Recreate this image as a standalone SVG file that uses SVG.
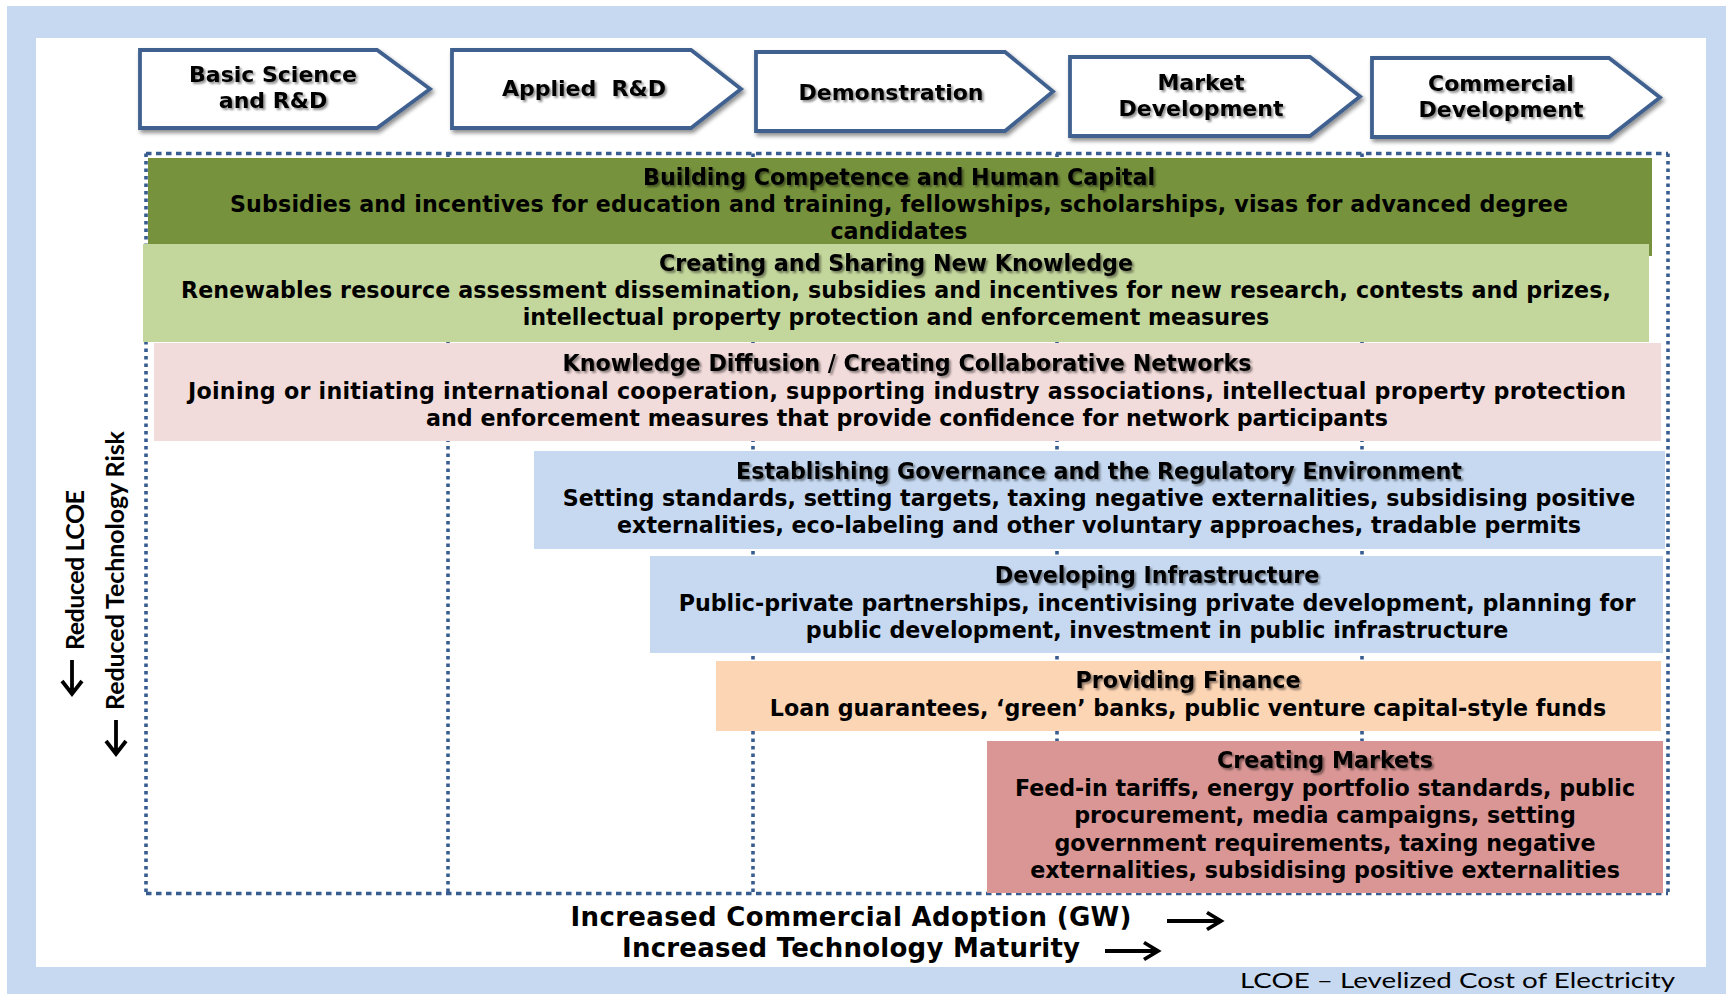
<svg xmlns="http://www.w3.org/2000/svg" width="1726" height="994" viewBox="0 0 1726 994">
  <defs>
    <style>
      .chev { fill: #ffffff; stroke: #3f6190; stroke-width: 3.8; stroke-linejoin: miter; filter: url(#boxShadow); }
      .ct { font-family: "DejaVu Sans", "Open Sans", sans-serif; font-weight: bold; font-size: 22px; fill: #000; text-anchor: middle; filter: url(#textShadow); }
      .t { font-family: "DejaVu Sans", "Open Sans", sans-serif; font-weight: bold; font-size: 22.2px; fill: #000; text-anchor: middle; }
      .ttl { filter: url(#textShadow); }
      .axis { font-family: "DejaVu Sans", "Open Sans", sans-serif; font-weight: bold; font-size: 26px; fill: #000; text-anchor: middle; }
      .vert { font-family: Lato, "Open Sans", sans-serif; font-weight: bold; font-size: 25px; fill: #000; }
      .note { font-family: Lato, "Open Sans", sans-serif; font-size: 21px; fill: #000; }
      .gh { fill: none; stroke: #375c8f; stroke-width: 3.4; stroke-dasharray: 5.5 4.5; }
      .gv { fill: none; stroke: #375c8f; stroke-width: 3.6; stroke-dasharray: 3.5 4; }
      .arr { fill: none; stroke: #000; stroke-width: 3.8; stroke-linecap: butt; stroke-linejoin: miter; }
    </style>
    <filter id="boxShadow" x="-10%" y="-20%" width="125%" height="150%">
      <feGaussianBlur in="SourceAlpha" stdDeviation="2.2"/>
      <feOffset dx="2" dy="3" result="b"/>
      <feComponentTransfer><feFuncA type="linear" slope="0.45"/></feComponentTransfer>
      <feMerge><feMergeNode/><feMergeNode in="SourceGraphic"/></feMerge>
    </filter>
    <filter id="textShadow" x="-5%" y="-40%" width="110%" height="180%">
      <feGaussianBlur in="SourceAlpha" stdDeviation="1.1"/>
      <feOffset dx="1.5" dy="1.5" result="b"/>
      <feComponentTransfer><feFuncA type="linear" slope="0.45"/></feComponentTransfer>
      <feMerge><feMergeNode/><feMergeNode in="SourceGraphic"/></feMerge>
    </filter>
  </defs>

  <!-- frame -->
  <rect x="0" y="0" width="1726" height="994" fill="#ffffff"/>
  <rect x="7" y="6" width="1719" height="988" fill="#c6d9f1"/>
  <rect x="36" y="38" width="1670" height="929" fill="#ffffff"/>

  <!-- stage chevrons -->
  <g id="stage-basic-science">
    <path class="chev" d="M140,50 H377 L430,89 L377,128 H140 Z"/>
    <text class="ct" x="273" y="82">Basic Science</text>
    <text class="ct" x="273" y="108">and R&amp;D</text>
  </g>
  <g id="stage-applied-rd">
    <path class="chev" d="M452,50 H691 L741,89 L691,128 H452 Z"/>
    <text class="ct" x="584" y="96" style="white-space:pre">Applied  R&amp;D</text>
  </g>
  <g id="stage-demonstration">
    <path class="chev" d="M756,52 H1005 L1053,91.5 L1005,131 H756 Z"/>
    <text class="ct" x="891" y="100">Demonstration</text>
  </g>
  <g id="stage-market-development">
    <path class="chev" d="M1070,57 H1310 L1360,96.5 L1310,136 H1070 Z"/>
    <text class="ct" x="1201" y="90">Market</text>
    <text class="ct" x="1201" y="116">Development</text>
  </g>
  <g id="stage-commercial-development">
    <path class="chev" d="M1372,58 H1609 L1660,97.5 L1609,137 H1372 Z"/>
    <text class="ct" x="1501" y="91">Commercial</text>
    <text class="ct" x="1501" y="117">Development</text>
  </g>

  <!-- dotted stage columns -->
  <g id="connectors">
    <line class="gh" x1="146" y1="153.5" x2="1668" y2="153.5"/>
    <line class="gh" x1="146" y1="893.5" x2="1668" y2="893.5"/>
    <line class="gv" x1="146" y1="153.5" x2="146" y2="893.5"/>
    <line class="gv" x1="1668" y1="153.5" x2="1668" y2="893.5"/>
    <line class="gv" x1="448" y1="153.5" x2="448" y2="893.5"/>
    <line class="gv" x1="753" y1="153.5" x2="753" y2="893.5"/>
    <line class="gv" x1="1057" y1="153.5" x2="1057" y2="893.5"/>
    <line class="gv" x1="1362" y1="153.5" x2="1362" y2="893.5"/>
  </g>

  <!-- policy bands -->
  <g id="band-competence">
    <rect x="148" y="158" width="1504" height="98" fill="#76923c"/>
    <text class="t ttl" x="899" y="185">Building Competence and Human Capital</text>
    <text class="t" x="899" y="212" textLength="1338">Subsidies and incentives for education and training, fellowships, scholarships, visas for advanced degree</text>
    <text class="t" x="899" y="239">candidates</text>
  </g>
  <g id="band-knowledge">
    <rect x="143" y="244" width="1506" height="98" fill="#c3d69b"/>
    <text class="t ttl" x="896" y="271">Creating and Sharing New Knowledge</text>
    <text class="t" x="896" y="298" textLength="1430">Renewables resource assessment dissemination, subsidies and incentives for new research, contests and prizes,</text>
    <text class="t" x="896" y="325">intellectual property protection and enforcement measures</text>
  </g>
  <g id="band-diffusion">
    <rect x="154" y="343" width="1507" height="98" fill="#f2dcdb"/>
    <text class="t ttl" x="907" y="371">Knowledge Diffusion / Creating Collaborative Networks</text>
    <text class="t" x="907" y="398.5" textLength="1438">Joining or initiating international cooperation, supporting industry associations, intellectual property protection</text>
    <text class="t" x="907" y="426">and enforcement measures that provide confidence for network participants</text>
  </g>
  <g id="band-governance">
    <rect x="534" y="451" width="1131" height="98" fill="#c6d9f1"/>
    <text class="t ttl" x="1099" y="479">Establishing Governance and the Regulatory Environment</text>
    <text class="t" x="1099" y="506">Setting standards, setting targets, taxing negative externalities, subsidising positive</text>
    <text class="t" x="1099" y="533">externalities, eco-labeling and other voluntary approaches, tradable permits</text>
  </g>
  <g id="band-infrastructure">
    <rect x="650" y="556" width="1013" height="97" fill="#c6d9f1"/>
    <text class="t ttl" x="1157" y="583">Developing Infrastructure</text>
    <text class="t" x="1157" y="611">Public-private partnerships, incentivising private development, planning for</text>
    <text class="t" x="1157" y="638">public development, investment in public infrastructure</text>
  </g>
  <g id="band-finance">
    <rect x="716" y="661" width="945" height="70" fill="#fcd5b5"/>
    <text class="t ttl" x="1188" y="688">Providing Finance</text>
    <text class="t" x="1188" y="716">Loan guarantees, ‘green’ banks, public venture capital-style funds</text>
  </g>
  <g id="band-markets">
    <rect x="987" y="741" width="676" height="152" fill="#d99694"/>
    <text class="t ttl" x="1325" y="768">Creating Markets</text>
    <text class="t" x="1325" y="796">Feed-in tariffs, energy portfolio standards, public</text>
    <text class="t" x="1325" y="823">procurement, media campaigns, setting</text>
    <text class="t" x="1325" y="851">government requirements, taxing negative</text>
    <text class="t" x="1325" y="878">externalities, subsidising positive externalities</text>
  </g>

  <!-- axis labels -->
  <g id="axis-vertical">
    <text class="vert" transform="translate(84,650) rotate(-90)" textLength="160">Reduced LCOE</text>
    <path class="arr" d="M72,660 V692 M62,681 L72,694 L82,681"/>
    <text class="vert" transform="translate(124,710) rotate(-90)" textLength="279">Reduced Technology Risk</text>
    <path class="arr" d="M116,720 V752 M106,741 L116,754 L126,741"/>
  </g>
  <g id="axis-horizontal">
    <text class="axis" x="851" y="926" textLength="561">Increased Commercial Adoption (GW)</text>
    <path class="arr" d="M1167,921 H1219 M1207,912.5 L1221,921 L1207,929.5"/>
    <text class="axis" x="851" y="957" textLength="458">Increased Technology Maturity</text>
    <path class="arr" d="M1105,951 H1156 M1144,942.5 L1158,951 L1144,959.5"/>
  </g>
  <g id="footnote">
    <text class="note" x="1240" y="988" textLength="435" lengthAdjust="spacingAndGlyphs">LCOE – Levelized Cost of Electricity</text>
  </g>
</svg>
